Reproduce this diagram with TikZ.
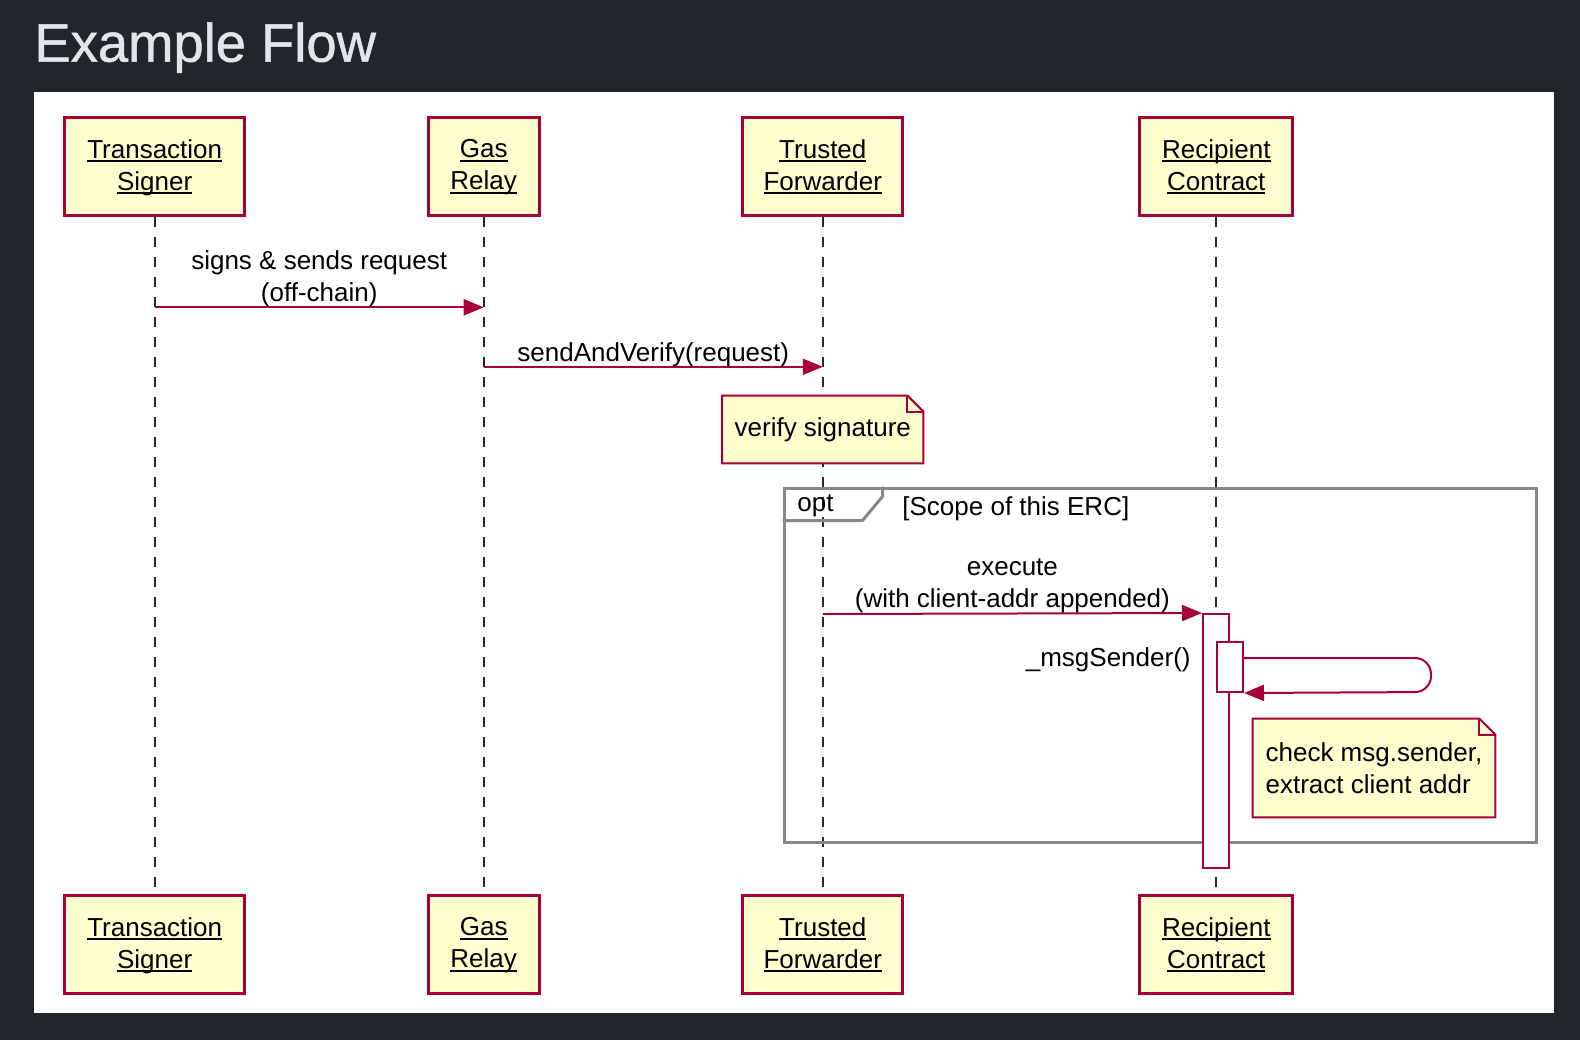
\documentclass[tikz,border=0pt]{standalone}
\usepackage{fontspec}
\setmainfont{Liberation Sans}
\newfontfamily\titlefont[FakeBold=0.9]{Liberation Sans}
\usetikzlibrary{positioning,arrows.meta}

\definecolor{pagebg}{RGB}{34,37,42}
\definecolor{titlefg}{RGB}{226,229,233}
\definecolor{umlred}{HTML}{A80036}
\definecolor{umlfill}{HTML}{FEFECE}
\definecolor{optgray}{HTML}{888888}
\newcommand{\undl}[1]{\setbox0\hbox{#1}\rlap{\vrule width\wd0 height -1pt depth 2pt}\box0}

\begin{document}
\begin{tikzpicture}[x=0.5pt, y=-0.5pt]
\tikzstyle{part} = [draw=umlred, fill=umlfill, line width=1.5pt, minimum height=48.85pt, inner sep=0pt, align=center, font=\fontsize{13}{16}\selectfont];
\tikzstyle{life} = [black!85, line width=1pt, dash pattern=on 5pt off 5pt];
\tikzstyle{msg} = [umlred, line width=1pt, -{Triangle[length=10pt, width=8pt]}];
\tikzstyle{lbl} = [font=\fontsize{13}{16}\selectfont, text=black, inner sep=0pt, align=center];
\tikzstyle{note} = [fill=umlfill, inner sep=0pt, align=left, font=\fontsize{13}{16}\selectfont];
\tikzstyle{notebd} = [draw=umlred, line width=1pt];
\tikzstyle{bar} = [draw=umlred, fill=white, line width=1pt, minimum width=13pt, inner sep=0pt];

\useasboundingbox (0,0) rectangle (1580,1040);
\fill[pagebg] (0,0) rectangle (1580,1040);
\fill[white] (34,92) rectangle (1554,1013);
\node[anchor=base west, inner sep=0pt, text=titlefg, font=\titlefont\fontsize{27.2}{30}\selectfont] (title) at (34,61.7) {Example Flow};

\foreach \n/\x/\w/\a/\b in {ts/154.7/90.2/Transaction/Signer, gr/483.7/55.4/Gas/Relay, tf/822.8/80.1/Trusted/Forwarder, rc/1216.3/76.6/Recipient/Contract} {
    \node[part, minimum width=\w pt, text depth=2pt] (\n) at (\x,166.8) {\undl{\a}\\\undl{\b}};
    \node[part, minimum width=\w pt, text depth=2pt] (\n-bot) at (\x,944.7) {\undl{\a}\\\undl{\b}};
    \draw[life] (\n.south) -- (\n-bot.north);
}

\coordinate (m1) at (0,307.3);
\draw[msg] (ts |- m1) -- node[lbl, above=-0.3pt] {signs \& sends request\\(off-chain)} (gr |- m1);
\coordinate (m2) at (0,366.8);
\draw[msg] (gr |- m2) -- node[lbl, above=-0.3pt] {sendAndVerify(request)} (tf |- m2);

\node[note, minimum width=100.25pt, minimum height=33.5pt] (verify) at (822.8,429.5) {verify signature};

\node[draw=optgray, line width=1.5pt, minimum width=376pt, minimum height=177pt, inner sep=0pt] (opt) at (1160,665) {};
\draw[optgray, line width=1.5pt] ([yshift=-17pt]opt.north west) -- ++(80,0) -- ++(20,-24) -- ++(0,-10);
\node[lbl, anchor=west] (optlbl) at (797,505.5) {opt};
\node[lbl, anchor=west] (scope) at (902,509) {[Scope of this ERC]};

\node[bar, minimum height=127pt] (act) at (1216,741) {};
\coordinate (m3) at (0,614);
\draw[msg] (tf |- m3) -- node[lbl, above=-0.3pt] {execute\\(with client-addr appended)} (act.north west);

\node[bar, minimum height=25pt] (nest) at (1230,667) {};
\coordinate (s1) at (1431,658);
\coordinate (s2) at (1431,692);
\draw[msg, rounded corners=8pt] (nest.east |- s1) -- (s1) -- (s2) -- (nest.south east);
\node[lbl, anchor=east] (msgsender) at (1191,660) {\_msgSender()};

\node[note, minimum width=121pt, minimum height=49pt] (check) at (1374,768) {check msg.sender,\\extract client addr};

\foreach \n in {verify, check} {
    \fill[white] ([xshift=-8pt]\n.north east) -- (\n.north east) -- ([yshift=-8pt]\n.north east) -- cycle;
    \draw[notebd] (\n.north west) -- ([xshift=-8pt]\n.north east) -- ([yshift=-8pt]\n.north east) |- (\n.south west) -- cycle;
    \draw[notebd] ([xshift=-8pt]\n.north east) |- ([yshift=-8pt]\n.north east);
}
\end{tikzpicture}
\end{document}
